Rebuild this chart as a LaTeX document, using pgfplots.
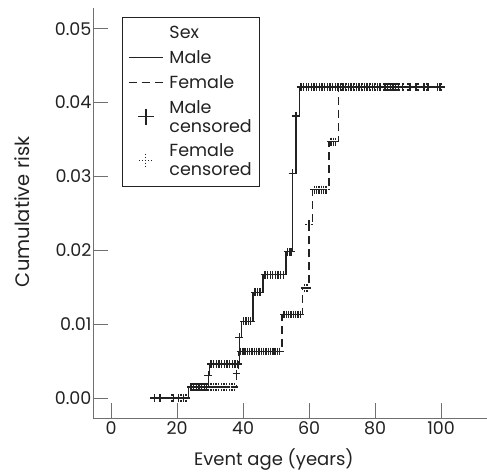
\documentclass[border=0pt]{standalone}
\usepackage{fontspec}
\setmainfont{Poppins}
\usepackage{pgfplots}
\pgfplotsset{compat=1.18}
\definecolor{ink}{HTML}{222222}
\definecolor{axg}{HTML}{707070}
\begin{document}
\begin{tikzpicture}
\useasboundingbox (0,0) rectangle (487pt,476pt);
\begin{axis}[
  at={(93pt,58pt)}, anchor=south west,
  scale only axis, width=394pt, height=410pt,
  xmin=-5.5, xmax=113.9, ymin=-0.0027, ymax=0.0528,
  axis lines=left, axis line style={-, axg, line width=0.8pt},
  tick align=inside, major tick length=15pt,
  every tick/.style={axg, line width=0.8pt},
  xtick={0,20,40,60,80,100},
  ytick={0,0.01,0.02,0.03,0.04,0.05},
  scaled y ticks=false,
  yticklabel={\pgfmathprintnumber[fixed,fixed zerofill,precision=2]{\tick}},
  /pgf/number format/assume math mode=true,
  tick label style={font=\fontsize{17.5}{19}\selectfont, text=ink},
  yticklabel style={xshift=2pt},
  label style={font=\fontsize{18}{19}\selectfont, text=ink},
  xlabel={Event age (years)},
  ylabel={Cumulative risk},
  xlabel style={at={(axis description cs:0.459,-0.117)}, anchor=base},
  ylabel style={at={(axis description cs:-0.18,0.503)}, anchor=center, font=\fontsize{19.5}{20}\selectfont},
  legend cell align=left,
  legend style={at={(0.0736,0.978)}, anchor=north west, draw=ink, line width=0.6pt,
    font=\fontsize{17.5}{19}\selectfont, text=ink, cells={align=left},
    inner xsep=6pt, inner ysep=6.5pt, row sep=6.5pt,
    /tikz/every odd column/.style={column sep=4pt}},
]
\addlegendimage{empty legend}
\addlegendentry{Sex}

% Male step function
\addplot[const plot, ink, line width=1.3pt, no marks,
  legend image code/.code={\draw[ink, line width=1.2pt] (0pt,0pt) -- (34pt,0pt);}]
coordinates {
(12,0) (23.5,0.0015) (29.5,0.0031) (29.7,0.0046) (38.8,0.0082) (39.6,0.0104)
(43,0.0143) (46,0.0167) (53,0.0198) (55,0.0304) (56,0.0382) (57,0.0421) (99.8,0.0421)
};
\addlegendentry{Male}

% Female step function
\addplot[const plot, ink, line width=1.3pt, no marks, dash pattern=on 8pt off 5pt,
  legend image code/.code={\draw[ink, line width=1.2pt, dash pattern=on 8pt off 5pt] (0pt,0pt) -- (34pt,0pt);}]
coordinates {
(12,0) (23.5,0.0015) (38,0.0033) (38.6,0.0063) (51.8,0.0113) (58,0.0149)
(60,0.0235) (61,0.0282) (66,0.0347) (69,0.0421) (99.8,0.0421)
};
\addlegendentry{Female}

% Male censored
\addplot[only marks, mark=+, mark size=4pt, ink, mark options={line width=1.3pt, solid},
  legend image code/.code={\draw[ink, line width=1pt] plot[mark=+, mark size=8pt, only marks] coordinates {(17pt,0pt)};}]
coordinates {
(13.1,0) (14.8,0) (19,0) (20.5,0) (22,0)
(24.2,0.0015) (25,0.0015) (25.8,0.0015) (26.6,0.0015) (27.4,0.0015) (28.2,0.0015) (29,0.0015)
(29.5,0.0031)
(30.3,0.0046) (31.1,0.0046) (31.9,0.0046) (32.7,0.0046) (33.5,0.0046) (34.3,0.0046)
(35.1,0.0046) (35.9,0.0046) (36.7,0.0046) (37.5,0.0046) (38.3,0.0046)
(38.8,0.0082)
(40.2,0.0104) (40.9,0.0104) (41.6,0.0104) (42.3,0.0104)
(43.6,0.0143) (44.3,0.0143) (45.1,0.0143)
(46.6,0.0167) (47.4,0.0167) (48.2,0.0167) (49,0.0167) (49.8,0.0167) (50.6,0.0167) (51.4,0.0167) (52.2,0.0167)
(53.5,0.0198) (54.2,0.0198) (54.6,0.0198)
(55,0.0304) (56,0.0382)
(57.5,0.0421) (58.3,0.0421) (59.1,0.0421) (59.9,0.0421) (60.7,0.0421) (61.5,0.0421)
(62.3,0.0421) (63.1,0.0421) (63.9,0.0421) (64.7,0.0421) (65.5,0.0421) (66.3,0.0421)
(67.1,0.0421) (67.9,0.0421) (68.7,0.0421) (69.5,0.0421) (70.3,0.0421) (71.1,0.0421)
(71.9,0.0421) (72.7,0.0421) (73.5,0.0421) (74.3,0.0421) (75.1,0.0421) (75.9,0.0421)
(76.7,0.0421) (77.5,0.0421) (78.3,0.0421) (79.1,0.0421) (79.9,0.0421) (80.7,0.0421)
(81.5,0.0421) (83,0.0421) (83.8,0.0421) (84.6,0.0421) (85.4,0.0421) (86.2,0.0421)
(87,0.0421) (88.2,0.0421) (90.6,0.0421) (92.4,0.0421) (94.8,0.0421) (96,0.0421) (98.8,0.0421) (99.7,0.0421)
};
\addlegendentry{Male\\censored}

% Female censored
\addplot[only marks, mark=+, mark size=4pt, ink, mark options={line width=1.4pt, dash pattern=on 2.2pt off 0.6pt},
  legend image code/.code={\draw[ink, line width=1pt] plot[mark=+, mark size=7pt, only marks, mark options={dash pattern=on 1.5pt off 1.5pt}] coordinates {(17pt,0pt)};}]
coordinates {
(18.4,0) (21.2,0) (22.7,0)
(24.6,0.0015) (25.4,0.0015) (26.2,0.0015) (27,0.0015) (27.8,0.0015) (28.6,0.0015)
(29.4,0.0015) (30.2,0.0015) (31,0.0015) (31.8,0.0015) (32.6,0.0015) (33.4,0.0015)
(34.2,0.0015) (35,0.0015) (35.8,0.0015) (36.6,0.0015) (37.4,0.0015)
(38,0.0033)
(39.2,0.0063) (39.9,0.0063) (40.6,0.0063) (41.3,0.0063) (42,0.0063) (42.7,0.0063)
(43.4,0.0063) (44.1,0.0063) (44.8,0.0063) (45.5,0.0063) (46.2,0.0063) (46.9,0.0063)
(47.6,0.0063) (48.3,0.0063) (49,0.0063) (49.7,0.0063) (50.4,0.0063) (51.1,0.0063)
(52.4,0.0113) (53.1,0.0113) (53.8,0.0113) (54.5,0.0113) (55.2,0.0113) (55.9,0.0113) (56.6,0.0113) (57.3,0.0113)
(58.6,0.0149) (59.3,0.0149)
(60,0.0235)
(61.6,0.0282) (62.3,0.0282) (63,0.0282) (63.7,0.0282) (64.4,0.0282) (65.1,0.0282)
(66.6,0.0347) (67.3,0.0347) (68,0.0347)
(69.6,0.0421) (70.4,0.0421) (71.2,0.0421) (72,0.0421) (72.8,0.0421) (73.6,0.0421)
(74.4,0.0421) (75.2,0.0421) (76,0.0421) (76.8,0.0421) (77.6,0.0421) (78.4,0.0421)
(79.2,0.0421) (80,0.0421) (80.8,0.0421) (82.6,0.0421) (83.4,0.0421) (84.2,0.0421)
(85,0.0421) (85.8,0.0421) (86.6,0.0421) (87.4,0.0421) (88.6,0.0421) (90,0.0421) (93,0.0421) (95.5,0.0421) (100,0.0421)
};
\addlegendentry{Female\\censored}
\end{axis}
\end{tikzpicture}
\end{document}
